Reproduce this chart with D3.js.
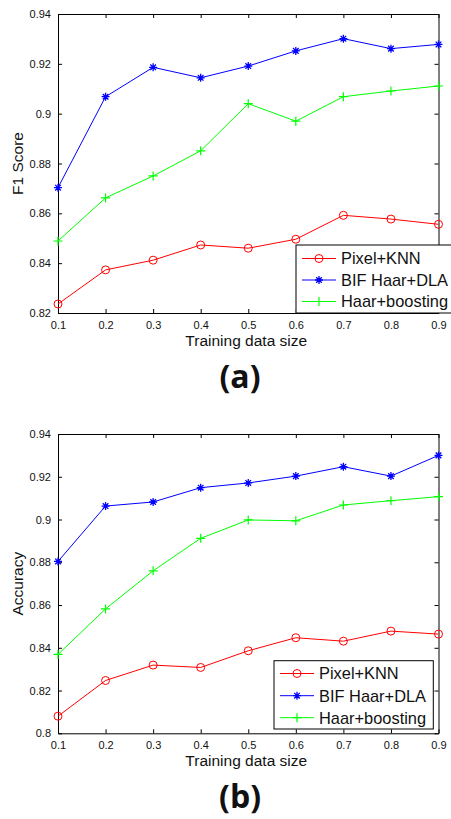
<!DOCTYPE html>
<html>
<head>
<meta charset="utf-8">
<script src="https://cdn.jsdelivr.net/npm/d3@7"></script>
<style>
  body { margin: 0; background: #fff; }
  svg { display: block; }
  text { font-family: "Liberation Sans", Arial, sans-serif; fill: #111; }
</style>
</head>
<body>
<script>
// data
const sizes = [0.1, 0.2, 0.3, 0.4, 0.5, 0.6, 0.7, 0.8, 0.9];
const seriesNames = ["Pixel+KNN", "BIF Haar+DLA", "Haar+boosting"];

const f1Knn   = [0.8236, 0.8373, 0.8412, 0.8473, 0.8460, 0.8496, 0.8592, 0.8577, 0.8556];
const f1Dla   = [0.8703, 0.9068, 0.9186, 0.9144, 0.9191, 0.9252, 0.9301, 0.9261, 0.9278];
const f1Boost = [0.8489, 0.8662, 0.8750, 0.8851, 0.9040, 0.8970, 0.9068, 0.9091, 0.9111];

const accKnn   = [0.8080, 0.8247, 0.8319, 0.8308, 0.8386, 0.8447, 0.8431, 0.8478, 0.8464];
const accDla   = [0.8804, 0.9063, 0.9082, 0.9149, 0.9171, 0.9203, 0.9247, 0.9203, 0.9300];
const accBoost = [0.8369, 0.8582, 0.8760, 0.8912, 0.8998, 0.8994, 0.9068, 0.9088, 0.9107];

const xTicks = [0.1, 0.2, 0.3, 0.4, 0.5, 0.6, 0.7, 0.8, 0.9];
const yTicksF1 = [0.82, 0.84, 0.86, 0.88, 0.90, 0.92, 0.94];
const yTicksAcc = [0.80, 0.82, 0.84, 0.86, 0.88, 0.90, 0.92, 0.94];

const colors = ["#ff0000", "#0000ff", "#00ff00"];
const markers = ["circle", "star", "plus"];

const svg = d3.select("body").append("svg")
    .attr("width", 451)
    .attr("height", 819);

const fmt = d => String(+d.toFixed(2));

function marker(g, type, x, y, color) {
  if (type == "circle") {
    g.append("circle").attr("cx", x).attr("cy", y).attr("r", 4)
      .attr("fill", "none").attr("stroke", color).attr("stroke-width", 1);
  } else if (type == "star") {
    let s = 4, d = 2.8;
    let p = `M${x - s},${y}H${x + s}M${x},${y - s}V${y + s}` +
      `M${x - d},${y - d}L${x + d},${y + d}M${x - d},${y + d}L${x + d},${y - d}`;
    g.append("path").attr("d", p).attr("stroke", color).attr("stroke-width", 1.3).attr("fill", "none");
  } else {
    let s = 4.5;
    g.append("path").attr("d", `M${x - s},${y}H${x + s}M${x},${y - s}V${y + s}`)
      .attr("stroke", color).attr("stroke-width", 1.2).attr("fill", "none");
  }
}

function drawPanel(opts) {
  const x = d3.scaleLinear().domain([0.1, 0.9]).range([opts.left, opts.right]);
  const y = d3.scaleLinear().domain(opts.yDomain).range([opts.bottom, opts.top]);
  const g = svg.append("g");

  // axes, MATLAB style: ticks inside on all four sides
  const tk = 4;
  g.append("g").attr("transform", `translate(0,${opts.bottom})`)
    .call(d3.axisBottom(x).tickValues(xTicks).tickFormat(fmt).tickSizeInner(-tk).tickSizeOuter(0).tickPadding(8))
  g.append("g").attr("transform", `translate(0,${opts.top})`)
    .call(d3.axisTop(x).tickValues(xTicks).tickFormat("").tickSizeInner(-tk).tickSizeOuter(0));
  g.append("g").attr("transform", `translate(${opts.left},0)`)
    .call(d3.axisLeft(y).tickValues(opts.yTicks).tickFormat(fmt).tickSizeInner(-tk).tickSizeOuter(0).tickPadding(7));
  g.append("g").attr("transform", `translate(${opts.right},0)`)
    .call(d3.axisRight(y).tickValues(opts.yTicks).tickFormat("").tickSizeInner(-tk).tickSizeOuter(0));
  g.selectAll(".domain").attr("stroke", "#000");
  g.selectAll(".tick line").attr("stroke", "#000");
  g.selectAll(".tick text").style("font-size", "11px").attr("fill", "#222");

  // lines + markers
  opts.series.forEach((vals, i) => {
    const line = d3.line().x((d, j) => x(sizes[j])).y(d => y(d));
    g.append("path").datum(vals).attr("d", line)
      .attr("fill", "none").attr("stroke", colors[i]).attr("stroke-width", 1);
    vals.forEach((v, j) => marker(g, markers[i], x(sizes[j]), y(v), colors[i]));
  });

  // axis titles
  g.append("text").attr("x", (opts.left + opts.right) / 2 - 2).attr("y", opts.bottom + 33)
    .attr("text-anchor", "middle").style("font-size", "15.5px").text("Training data size");
  g.append("text")
    .attr("transform", `translate(23,${(opts.top + opts.bottom) / 2}) rotate(-90)`)
    .attr("text-anchor", "middle").style("font-size", "15.5px").text(opts.yLabel);

  // legend
  const L = opts.legend;
  g.append("rect").attr("x", L.x).attr("y", L.y).attr("width", L.w).attr("height", L.h)
    .attr("fill", "#fff").attr("stroke", "#000").attr("stroke-width", 1);
  seriesNames.forEach((name, i) => {
    const ry = L.rows[i];
    g.append("line").attr("x1", L.x + 6).attr("x2", L.x + 40).attr("y1", ry).attr("y2", ry)
      .attr("stroke", colors[i]).attr("stroke-width", 1);
    marker(g, markers[i], L.x + 23, ry, colors[i]);
    g.append("text").attr("x", L.x + 45).attr("y", ry).attr("dy", "0.36em")
      .style("font-size", "16.4px").text(name);
  });

  // panel caption
  svg.append("text").attr("x", 240).attr("y", opts.captionY)
    .attr("text-anchor", "middle")
    .style("font-family", "'Open Sans', 'DejaVu Sans', sans-serif")
    .style("font-weight", "bold").style("font-size", "32px").attr("fill", "#000")
    .text(opts.caption);
}

drawPanel({
  left: 58, right: 438.5, top: 14, bottom: 313,
  yDomain: [0.82, 0.94], yTicks: yTicksF1, yLabel: "F1 Score",
  series: [f1Knn, f1Dla, f1Boost],
  legend: { x: 296, y: 245, w: 160, h: 68, rows: [258.5, 280, 301.5] },
  caption: "(a)", captionY: 388
});

drawPanel({
  left: 58, right: 438.5, top: 434, bottom: 733.3,
  yDomain: [0.80, 0.94], yTicks: yTicksAcc, yLabel: "Accuracy",
  series: [accKnn, accDla, accBoost],
  legend: { x: 274, y: 660.7, w: 159.3, h: 68.3, rows: [673.5, 695.7, 717.7] },
  caption: "(b)", captionY: 808
});
</script>
</body>
</html>
